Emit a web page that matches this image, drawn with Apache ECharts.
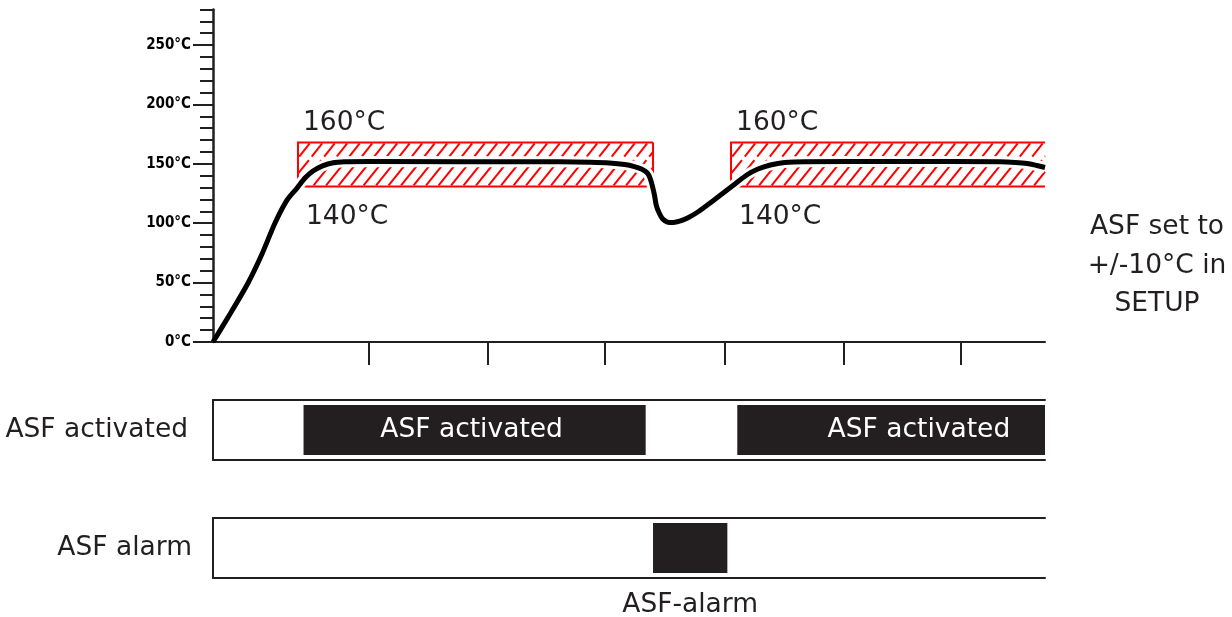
<!DOCTYPE html>
<html>
<head>
<meta charset="utf-8">
<script src="https://cdn.jsdelivr.net/npm/echarts@6/dist/echarts.min.js"></script>
<style>
html,body{margin:0;padding:0;background:#fff;}
#chart{width:1232px;height:617px;}
</style>
</head>
<body>
<div id="chart"></div>
<script>
// ---- data (x in arbitrary time units, y in °C) ----
const curveTime = [0, 1.44, 2.96, 4.14, 5.24, 6.25, 7.10, 7.77, 8.45, 9.21, 10.06, 11.15, 13.27, 29.3, 31.9, 33.5, 34.8, 35.6, 36.2, 36.7, 36.93, 37.1, 37.3, 37.45, 37.7, 38.0, 38.4, 38.9, 39.5, 40.1, 40.9, 42.0, 43.0, 44.1, 45.1, 46.05, 47.1, 48.3, 50.0, 58.0, 66.5, 67.8, 68.8, 69.6, 70.3];
const curveTemp = [0, 23.6, 49.7, 74.1, 100.2, 119.5, 129.6, 138.0, 143.9, 148.1, 150.7, 151.7, 151.9, 151.7, 151.3, 150.7, 149.4, 147.7, 145.6, 142.3, 138.0, 132.2, 123.7, 115.3, 108.6, 103.5, 101.0, 100.6, 101.9, 104.4, 109.0, 117.0, 124.6, 133.0, 140.6, 145.6, 149.0, 151.1, 151.8, 151.9, 151.7, 151.2, 150.3, 148.6, 146.9];
const timeMax = 70.3;
const xTickValues = [13.2, 23.2, 33.1, 43.2, 53.3, 63.2];
const tempMax = 280;
const tempLabelValues = [0, 50, 100, 150, 200, 250];

const bandStart = [7.18, 43.77];
const bandEnd = [37.18, 75.0];
const bandLow = [131, 131];
const bandHigh = [168, 168];
const bandTopLabel = ['160°C', '160°C'];
const bandBottomLabel = ['140°C', '140°C'];

const rowNames = ['ASF activated', 'ASF alarm'];
const activatedStart = [7.65, 44.3];
const activatedEnd = [36.56, 75.5];
const activatedText = ['ASF activated', 'ASF activated'];
const alarmStart = [37.18];
const alarmEnd = [43.46];
const alarmText = ['ASF-alarm'];

const noteText = ['ASF set to', '+/-10°C in', 'SETUP'];

// ---- styles ----
const DARK = '#231f20';
const RED = '#ff0000';
const FONT = 'DejaVu Sans';
const FS = 26.5;

const chart = echarts.init(document.getElementById('chart'), null, {renderer: 'canvas'});

function clipSeg(xa, ya, xb, yb, L, R) {
  if (xb < L || xa > R) return null;
  if (xa < L) { const t = (L - xa) / (xb - xa); ya = ya + t * (yb - ya); xa = L; }
  if (xb > R) { const t = (R - xa) / (xb - xa); yb = ya + t * (yb - ya); xb = R; }
  return [xa, ya, xb, yb];
}

function renderBand(params, api) {
  const i = params.dataIndex;
  const cs = params.coordSys;
  const p0 = api.coord([api.value(0), api.value(3)]);
  const p1 = api.coord([api.value(1), api.value(2)]);
  const left = p0[0], top = p0[1], bottom = p1[1];
  const gridRight = cs.x + cs.width;
  const clipped = p1[0] > gridRight;
  const right = Math.min(p1[0], gridRight);
  const h = bottom - top;
  const k = 0.8, spacing = 12.5;
  const children = [];
  const bands = [[top + 1, top + h * 0.32], [top + h * 0.40, bottom - 1]];
  bands.forEach(function (b) {
    const ya = b[0], yb = b[1];
    for (let s = left - k * h - spacing; s < right + spacing; s += spacing) {
      const xb0 = s + k * (bottom - yb);
      const xt0 = s + k * (bottom - ya);
      const seg = clipSeg(xb0, yb, xt0, ya, left, right);
      if (seg) {
        children.push({type: 'line', shape: {x1: seg[0], y1: seg[1], x2: seg[2], y2: seg[3]},
          style: {stroke: RED, lineWidth: 2}});
      }
    }
  });
  let pts;
  if (clipped) pts = [[right, top], [left, top], [left, bottom], [right, bottom]];
  else pts = [[right, top], [left, top], [left, bottom], [right, bottom], [right, top]];
  children.push({type: 'polyline', shape: {points: pts}, style: {stroke: RED, lineWidth: 2, fill: null}});
  children.push({type: 'text', x: left + 5, y: top - 6,
    style: {text: bandTopLabel[i], font: FS + 'px ' + FONT, fill: DARK, align: 'left', verticalAlign: 'bottom'}});
  children.push({type: 'text', x: left + 8, y: bottom + 17,
    style: {text: bandBottomLabel[i], font: FS + 'px ' + FONT, fill: DARK, align: 'left', verticalAlign: 'top'}});
  return {type: 'group', children: children};
}

function makeBarRenderer(texts, below) {
  return function (params, api) {
    const i = params.dataIndex;
    const cs = params.coordSys;
    const s = api.coord([api.value(0), 0]);
    const e = api.coord([api.value(1), 0]);
    const bandH = api.size([0, 1])[1];
    const barH = bandH * 50 / 60;
    const gridRight = cs.x + cs.width;
    const x0 = Math.max(s[0], cs.x), x1 = Math.min(e[0], gridRight);
    const cx = (s[0] + e[0]) / 2;
    const children = [{type: 'rect', shape: {x: x0, y: s[1] - barH / 2, width: x1 - x0, height: barH},
      style: {fill: DARK}}];
    if (!below) {
      children.push({type: 'text', x: cx - 3, y: s[1],
        style: {text: texts[i], font: FS + 'px ' + FONT, fill: '#ffffff', align: 'center', verticalAlign: 'middle'}});
    } else {
      children.push({type: 'text', x: cx, y: cs.y + cs.height + 14,
        style: {text: texts[i], font: FS + 'px ' + FONT, fill: DARK, align: 'center', verticalAlign: 'top'}});
    }
    return {type: 'group', children: children};
  };
}

const curveData = curveTime.map((t, i) => [t, curveTemp[i]]);
const bandData = bandStart.map((s, i) => [s, bandEnd[i], bandLow[i], bandHigh[i]]);
const activatedData = activatedStart.map((s, i) => [s, activatedEnd[i], 0]);
const alarmData = alarmStart.map((s, i) => [s, alarmEnd[i], 0]);

const lineAxis = {show: true, lineStyle: {color: DARK, width: 2}};
function plainX(gridIndex, position) {
  return {type: 'value', gridIndex: gridIndex, position: position, min: 0, max: timeMax,
    axisLine: lineAxis, axisTick: {show: false}, axisLabel: {show: false}, splitLine: {show: false}};
}
function rowY(gridIndex, name, margin) {
  return {type: 'category', gridIndex: gridIndex, position: 'left', data: [name],
    axisLine: lineAxis, axisTick: {show: false}, splitLine: {show: false},
    axisLabel: {margin: margin, fontFamily: FONT, fontSize: FS, color: DARK}};
}

const option = {
  animation: false,
  backgroundColor: '#ffffff',
  grid: [
    {left: 213, top: 9.4, width: 832, height: 332.6},
    {left: 213, top: 400, width: 832, height: 60},
    {left: 213, top: 518, width: 832, height: 60}
  ],
  xAxis: [
    {type: 'value', gridIndex: 0, position: 'bottom', min: 0, max: timeMax,
      axisLine: {show: true, lineStyle: {color: DARK, width: 2}},
      axisTick: {show: true, customValues: xTickValues, length: 23, lineStyle: {color: DARK, width: 2}},
      axisLabel: {show: false}, splitLine: {show: false}},
    plainX(1, 'bottom'), plainX(1, 'top'),
    plainX(2, 'bottom'), plainX(2, 'top')
  ],
  yAxis: [
    {type: 'value', gridIndex: 0, position: 'left', min: 0, max: tempMax, interval: 10,
      axisLine: {show: true, lineStyle: {color: DARK, width: 2.5}},
      axisTick: {show: true, length: 13, lineStyle: {color: DARK, width: 2}},
      axisLabel: {show: true, margin: 22, fontFamily: 'DejaVu Sans Condensed, DejaVu Sans', fontWeight: 'bold', fontSize: 15, color: '#000',
        formatter: function (v) { return tempLabelValues.indexOf(v) >= 0 ? v + '°C' : ''; }},
      splitLine: {show: false}},
    {type: 'value', gridIndex: 0, position: 'left', offset: 0, min: 0, max: tempMax,
      axisLine: {show: false},
      axisTick: {show: true, customValues: tempLabelValues, length: 20, lineStyle: {color: DARK, width: 2}},
      axisLabel: {show: false}, splitLine: {show: false}},
    rowY(1, rowNames[0], 25),
    rowY(2, rowNames[1], 21)
  ],
  graphic: [
    {type: 'text', x: 1157, y: 266,
      style: {text: noteText.join('\n'), font: FS + 'px ' + FONT, fill: DARK, align: 'center', verticalAlign: 'middle', lineHeight: 38.5}}
  ],
  series: [
    {type: 'custom', xAxisIndex: 0, yAxisIndex: 0, z: -2, silent: true,
      renderItem: renderBand, data: bandData, encode: {x: [0, 1], y: [2, 3]}},
    {type: 'line', xAxisIndex: 0, yAxisIndex: 0, z: -1, silent: true, data: curveData,
      showSymbol: false, symbol: 'none', smooth: 0.25,
      lineStyle: {color: '#ffffff', width: 11}},
    {type: 'line', xAxisIndex: 0, yAxisIndex: 0, z: 3, silent: true, data: curveData,
      showSymbol: false, symbol: 'none', smooth: 0.25,
      lineStyle: {color: '#000000', width: 5}},
    {type: 'custom', xAxisIndex: 1, yAxisIndex: 2, silent: true,
      renderItem: makeBarRenderer(activatedText, false), data: activatedData, encode: {x: [0, 1], y: 2}},
    {type: 'custom', xAxisIndex: 3, yAxisIndex: 3, silent: true,
      renderItem: makeBarRenderer(alarmText, true), data: alarmData, encode: {x: [0, 1], y: 2}}
  ]
};
chart.setOption(option);
</script>
</body>
</html>
